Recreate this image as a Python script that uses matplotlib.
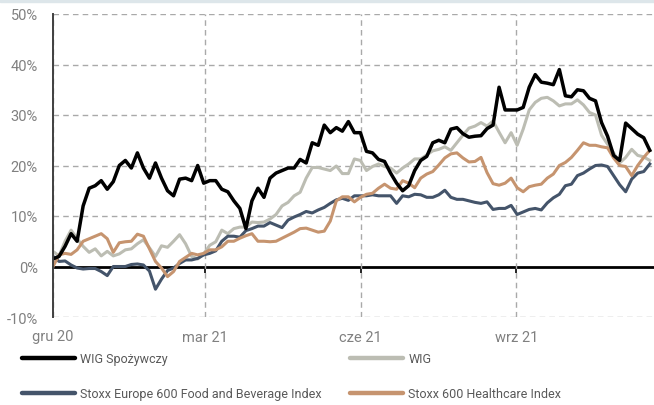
import matplotlib.pyplot as plt
import pandas as pd
from matplotlib.patches import Rectangle

# values in % (evenly spaced sample dates)
wig_spoz = [1.5, 2.0, 4.0, 6.5, 5.0, 12.0, 15.5, 16.0, 17.0, 15.3,
            16.8, 20.0, 21.0, 19.5, 22.5, 19.5, 17.5, 20.5, 17.5, 15.0,
            14.0, 17.3, 17.5, 17.0, 20.0, 16.5, 17.0, 17.0, 15.3, 14.8,
            13.0, 11.5, 7.5, 13.0, 15.5, 13.7, 17.5, 18.5, 19.0, 19.5,
            19.5, 21.2, 20.5, 24.5, 24.0, 28.0, 26.5, 27.5, 26.8, 28.7,
            26.5, 26.5, 22.8, 22.5, 21.2, 20.8, 18.5, 16.5, 15.0, 16.0,
            19.0, 21.0, 21.8, 24.5, 25.0, 24.5, 27.2, 27.5, 26.3, 25.6,
            25.8, 25.9, 27.3, 28.0, 35.5, 31.0, 31.0, 31.0, 31.5, 35.5,
            38.0, 36.5, 36.3, 36.0, 39.0, 33.8, 33.6, 35.0, 34.8, 33.3,
            32.8, 28.5, 25.8, 22.0, 21.0, 28.4, 27.3, 26.2, 25.5, 23.0]
wig = [3.0, 2.1, 5.0, 7.2, 5.5, 4.0, 2.8, 3.5, 2.1, 3.0,
       2.1, 2.5, 3.3, 3.5, 4.5, 5.3, 3.7, 2.0, 4.1, 3.8,
       5.0, 6.3, 4.5, 2.0, 1.5, 2.5, 4.2, 4.9, 7.2, 6.5,
       7.5, 7.8, 7.8, 8.8, 8.7, 8.8, 9.4, 10.3, 12.0, 12.7,
       14.0, 14.7, 17.5, 19.6, 19.6, 19.3, 19.0, 19.9, 18.4, 18.4,
       21.3, 21.0, 19.0, 19.8, 20.3, 19.8, 19.5, 18.5, 19.5, 20.3,
       21.3, 21.3, 22.1, 22.9, 23.2, 23.7, 23.0, 24.5, 26.0, 27.4,
       27.8, 28.5, 27.8, 28.8, 26.6, 24.5, 26.5, 24.0, 27.2, 31.0,
       32.5, 33.3, 33.5, 32.8, 31.8, 32.2, 32.2, 33.0, 32.0, 30.5,
       30.0, 26.0, 24.2, 22.5, 20.5, 21.6, 23.2, 22.0, 21.7, 21.0]
stoxx_food = [2.0, 1.0, 1.1, 0.3, -0.3, -0.5, -0.4, -0.4, -1.0, -1.8,
              0.0, 0.0, 0.0, 0.4, 0.5, 0.3, -0.9, -4.5, -2.5, -0.8,
              -0.3, 0.6, 1.3, 1.3, 1.6, 2.3, 2.6, 3.1, 5.0, 6.0,
              6.0, 5.8, 7.1, 7.5, 8.0, 8.0, 8.7, 8.2, 7.7, 9.2,
              9.8, 10.3, 10.9, 10.6, 11.2, 11.7, 12.5, 13.2, 13.5, 13.1,
              14.0, 14.0, 14.0, 14.2, 14.0, 14.0, 14.0, 12.5, 14.0, 13.8,
              14.3, 14.2, 13.7, 13.7, 14.2, 15.1, 13.7, 13.3, 13.3, 13.0,
              12.7, 12.5, 12.8, 11.3, 11.5, 11.5, 12.1, 10.3, 10.8, 11.3,
              11.5, 11.2, 12.6, 13.6, 14.3, 16.0, 16.3, 18.0, 18.5, 19.3,
              20.0, 20.1, 19.8, 18.0, 16.2, 14.8, 17.3, 18.5, 18.8, 20.3]
stoxx_health = [0.0, 2.3, 2.6, 2.4, 3.3, 5.0, 5.5, 6.0, 6.5, 5.5,
                2.8, 4.7, 4.9, 5.0, 6.4, 6.0, 3.5, 1.0, -0.3, -2.0,
                -1.0, 1.0, 1.8, 2.6, 2.3, 2.6, 3.3, 3.3, 3.9, 5.0,
                5.0, 5.6, 6.1, 6.5, 5.0, 5.0, 4.9, 5.0, 5.6, 6.2,
                6.8, 7.5, 7.6, 7.2, 6.8, 7.0, 9.0, 13.0, 13.8, 13.8,
                12.8, 13.7, 14.3, 14.5, 15.5, 16.3, 15.5, 15.3, 17.0, 16.5,
                15.6, 17.5, 18.3, 18.8, 20.1, 21.5, 22.3, 22.5, 21.5, 20.7,
                20.8, 21.6, 18.6, 16.4, 16.1, 16.5, 17.5, 15.6, 14.8, 15.8,
                16.1, 16.3, 17.5, 18.3, 20.0, 20.6, 21.6, 23.0, 24.5, 24.0,
                24.0, 23.7, 23.5, 21.5, 20.0, 19.8, 18.0, 20.0, 21.6, 23.0]

names = ['WIG Spożywczy', 'WIG', 'Stoxx Europe 600 Food and Beverage Index',
         'Stoxx 600 Healthcare Index']
colors = ['#000000', '#bcbdb3', '#44546a', '#c6946f']
start, end = '2020-12-01', '2021-11-19'
tick_dates = ['2020-12-01', '2021-03-01', '2021-06-01', '2021-09-01']
tick_labels = ['gru 20', 'mar 21', 'cze 21', 'wrz 21']
y_ticks = [-10, 0, 10, 20, 30, 40, 50]

plt.rcParams['font.family'] = ['Roboto', 'DejaVu Sans']

df = pd.DataFrame({'spoz': wig_spoz, 'wig': wig, 'food': stoxx_food,
                   'health': stoxx_health},
                  index=pd.date_range(start, end, periods=len(wig)))

fig = plt.figure(figsize=(6.54, 4.06), dpi=100)
fig.patches.append(Rectangle((0, 1 - 3 / 406), 1, 3 / 406, transform=fig.transFigure,
                             color='#dde6ea', zorder=0))
ax = fig.add_axes([53 / 654, 1 - 318 / 406, 601 / 654, 303 / 406])

lines = []
for col, name, c, lw, z in zip(df.columns, names, colors, [2.5, 2.2, 2.2, 2.2], [5, 2, 3, 4]):
    ln, = ax.plot(df.index, df[col], color=c, lw=lw, label=name, zorder=z)
    lines.append(ln)

ax.set_xlim(pd.Timestamp('2020-12-01'), pd.Timestamp('2021-11-21 12:00'))
ax.set_ylim(-10, 50)
ax.set_yticks(y_ticks, labels=[f'{v}%' for v in y_ticks])
ax.set_xticks(pd.to_datetime(tick_dates), labels=tick_labels)
ax.tick_params(axis='both', length=0, labelsize=10.5, labelcolor='#808080')
ax.tick_params(axis='y', pad=11)
ax.tick_params(axis='x', pad=9)
ax.grid(True, color='#a9a9a9', ls=(0, (4, 3)), lw=1.0)
# the zero gridline is replaced by the solid zero axis below
ax.yaxis.get_gridlines()[y_ticks.index(0)].set_visible(False)
for s in ['top', 'right', 'bottom']:
    ax.spines[s].set_visible(False)
ax.spines['left'].set_color('#404040')
ax.spines['left'].set_linewidth(1.4)
ax.spines['left'].set_zorder(6)

# zero line with small tick marks
zero = ax.secondary_xaxis(0, transform=ax.transData)
zero.set_xticks(pd.to_datetime(tick_dates[1:]))
zero.tick_params(length=4, width=1.2, color='#000000', labelbottom=False, direction='out')
zero.spines['bottom'].set_color('#000000')
zero.spines['bottom'].set_linewidth(2)

leg_kw = dict(loc='upper left', frameon=False, fontsize=9, handlelength=4.2,
              handletextpad=0.45, labelspacing=1.75, borderpad=0, borderaxespad=0,
              labelcolor='#595959')
leg1 = fig.legend([lines[0], lines[2]], [names[0], names[2]],
                  bbox_to_anchor=(22 / 654, 1 - 353 / 406), **leg_kw)
leg2 = fig.legend([lines[1], lines[3]], [names[1], names[3]],
                  bbox_to_anchor=(350 / 654, 1 - 353 / 406), **leg_kw)
for leg in (leg1, leg2):
    for h in leg.legend_handles:
        h.set_linewidth(3.2)
        h.set_solid_capstyle('round')

fig.savefig('out.png', dpi=100)
